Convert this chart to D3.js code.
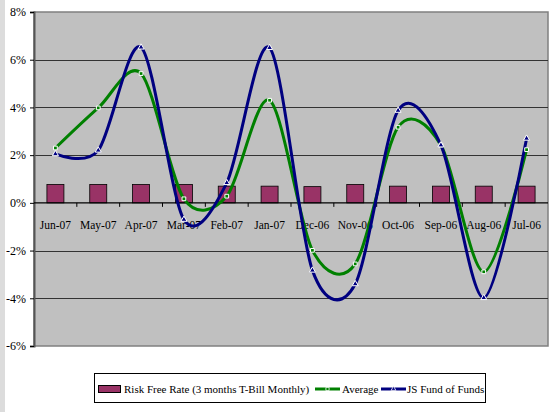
<!DOCTYPE html>
<html>
<head>
<meta charset="utf-8">
<script src="https://cdn.jsdelivr.net/npm/d3@7"></script>
<style>
  body { margin: 0; background: #fff; }
</style>
</head>
<body>
<div id="chart"></div>
<script>
// Chart data (values in %).
var months = ["Jun-07", "May-07", "Apr-07", "Mar-07", "Feb-07", "Jan-07",
              "Dec-06", "Nov-06", "Oct-06", "Sep-06", "Aug-06", "Jul-06"];
var riskFree = [0.77, 0.77, 0.77, 0.77, 0.70, 0.70, 0.68, 0.77, 0.70, 0.70, 0.70, 0.70];
var average = [2.3, 3.98, 5.42, 0.17, 0.28, 4.3, -1.99, -2.56, 3.17, 2.42, -2.89, 2.23];
var jsFund = [2.05, 2.2, 6.52, -0.7, 0.84, 6.5, -2.83, -3.4, 3.87, 2.42, -3.98, 2.7];
var yTicks = [-6, -4, -2, 0, 2, 4, 6, 8];
var legendLabels = ["Risk Free Rate (3 months T-Bill Monthly)", "Average", "JS Fund of Funds"];

var W = 549, H = 412;
var plot = { left: 34, right: 548, top: 12, bottom: 346 };
var serif = "Liberation Serif";

var svg = d3.select("#chart").append("svg")
  .attr("width", W)
  .attr("height", H)
  .attr("font-family", serif);

// light strip down the left edge
svg.append("rect").attr("x", 0).attr("y", 0).attr("width", 5).attr("height", H).attr("fill", "#dcdcdc");

var x = d3.scaleBand().domain(months).range([plot.left, plot.right]);
var y = d3.scaleLinear().domain([-6, 8]).range([plot.bottom, plot.top]);

// plot area
svg.append("rect")
  .attr("x", plot.left).attr("y", plot.top)
  .attr("width", plot.right - plot.left).attr("height", plot.bottom - plot.top)
  .attr("fill", "#c0c0c0")
  .attr("stroke", "#808080").attr("stroke-width", 1.5);

// gridlines
svg.append("g").selectAll("line")
  .data(yTicks.filter(function(d) { return d != 0 && d != -6 && d != 8; }))
  .enter().append("line")
  .attr("x1", plot.left).attr("x2", plot.right)
  .attr("y1", function(d) { return Math.round(y(d)) + 0.5; })
  .attr("y2", function(d) { return Math.round(y(d)) + 0.5; })
  .attr("stroke", "#333").attr("stroke-width", 1);

// y axis
var yAxis = svg.append("g")
  .attr("transform", "translate(" + plot.left + ",0)")
  .call(d3.axisLeft(y).tickValues(yTicks).tickSize(4).tickPadding(4)
    .tickFormat(function(d) { return d + "%"; }));
yAxis.attr("font-family", serif).attr("font-size", 12);
yAxis.select(".domain").attr("stroke", "#555").attr("stroke-width", 2);
yAxis.selectAll("line").attr("stroke", "#000");
yAxis.selectAll("text").attr("font-family", serif);

// bars
svg.append("g").selectAll("rect")
  .data(riskFree)
  .enter().append("rect")
  .attr("x", function(d, i) { return x(months[i]) + x.bandwidth() / 2 - 8.5; })
  .attr("width", 17)
  .attr("y", function(d) { return y(d); })
  .attr("height", function(d) { return y(0) - y(d); })
  .attr("fill", "#993366")
  .attr("stroke", "#000").attr("stroke-width", 0.8);

// zero axis with ticks between categories
var xAxis = svg.append("g")
  .attr("transform", "translate(0," + y(0) + ")");
xAxis.append("line")
  .attr("x1", plot.left).attr("x2", plot.right)
  .attr("stroke", "#000").attr("stroke-width", 1.2);
xAxis.selectAll(".tk")
  .data(d3.range(1, months.length))
  .enter().append("line")
  .attr("class", "tk")
  .attr("x1", function(i) { return x(months[i]); })
  .attr("x2", function(i) { return x(months[i]); })
  .attr("y1", 0).attr("y2", 4)
  .attr("stroke", "#000");
xAxis.selectAll("text")
  .data(months)
  .enter().append("text")
  .attr("x", function(d) { return x(d) + x.bandwidth() / 2; })
  .attr("y", 26)
  .attr("text-anchor", "middle")
  .attr("font-family", serif)
  .attr("font-size", 11.5)
  .text(function(d) { return d; });

// lines
var line = d3.line()
  .x(function(d, i) { return x(months[i]) + x.bandwidth() / 2; })
  .y(function(d) { return y(d); })
  .curve(d3.curveCardinal.tension(0.1));

var series = [
  { values: average, color: "#008000", marker: "square" },
  { values: jsFund, color: "#000080", marker: "triangle" }
];

series.forEach(function(s) {
  svg.append("path")
    .attr("d", line(s.values))
    .attr("fill", "none")
    .attr("stroke", s.color)
    .attr("stroke-width", 3);
});

series.forEach(function(s) {
  var sym = d3.symbol()
    .type(s.marker == "square" ? d3.symbolSquare : d3.symbolTriangle)
    .size(s.marker == "square" ? 14 : 16);
  svg.append("g").selectAll("path")
    .data(s.values)
    .enter().append("path")
    .attr("transform", function(d, i) {
      return "translate(" + (x(months[i]) + x.bandwidth() / 2) + "," + y(d) + ")";
    })
    .attr("d", sym)
    .attr("fill", s.color)
    .attr("stroke", "#fff")
    .attr("stroke-width", 1);
});

// legend
var legend = svg.append("g");
legend.append("rect")
  .attr("x", 94.5).attr("y", 373.5).attr("width", 391).attr("height", 29)
  .attr("fill", "#fff").attr("stroke", "#000").attr("stroke-width", 1);

legend.append("rect")
  .attr("x", 98.5).attr("y", 385.5).attr("width", 22).attr("height", 7)
  .attr("fill", "#993366").attr("stroke", "#000").attr("stroke-width", 1);
legend.append("text").attr("x", 124).attr("y", 392.5)
  .attr("font-family", serif).attr("font-size", 11).text(legendLabels[0]);

var legendLines = [
  { x: 315, tx: 342, color: "#008000", marker: d3.symbolSquare, label: legendLabels[1] },
  { x: 381, tx: 407, color: "#000080", marker: d3.symbolTriangle, label: legendLabels[2] }
];
legendLines.forEach(function(l) {
  legend.append("line")
    .attr("x1", l.x).attr("x2", l.x + 25).attr("y1", 389).attr("y2", 389)
    .attr("stroke", l.color).attr("stroke-width", 3);
  legend.append("path")
    .attr("transform", "translate(" + (l.x + 12.5) + ",389)")
    .attr("d", d3.symbol().type(l.marker).size(10))
    .attr("fill", l.color).attr("stroke", "#fff").attr("stroke-width", 0.8);
  legend.append("text").attr("x", l.tx).attr("y", 392.5)
    .attr("font-family", serif).attr("font-size", 11).text(l.label);
});
</script>
</body>
</html>
